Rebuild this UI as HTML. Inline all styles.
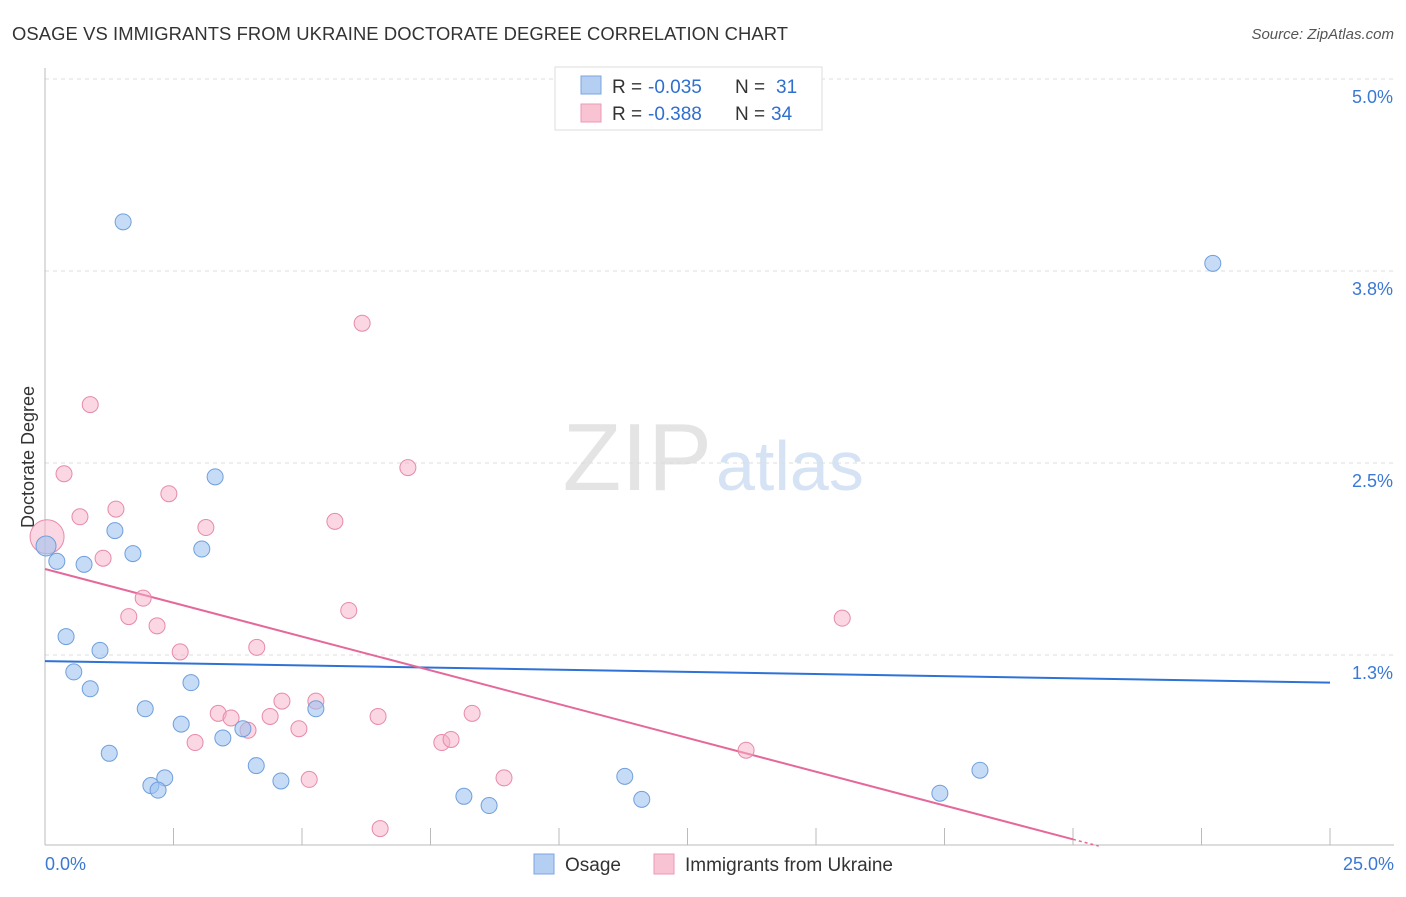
<!DOCTYPE html>
<html><head><meta charset="utf-8"><style>
body{margin:0;background:#fff;font-family:"Liberation Sans",sans-serif;}
svg text{font-family:"Liberation Sans",sans-serif;}
</style></head><body>
<svg id="chart" width="1406" height="892" xmlns="http://www.w3.org/2000/svg">
<text x="12" y="40" font-size="18.4" fill="#333" textLength="776">OSAGE VS IMMIGRANTS FROM UKRAINE DOCTORATE DEGREE CORRELATION CHART</text>
<text x="1394" y="39" font-size="15" fill="#555" text-anchor="end" font-style="italic">Source: ZipAtlas.com</text>
<text x="712" y="490" font-size="96" fill="#e4e4e4" text-anchor="end" font-family="Liberation Serif">ZIP</text>
<text x="716" y="490" font-size="70" fill="#d5e3f5">atlas</text>
<text transform="translate(34,457) rotate(-90)" font-size="18" fill="#333" text-anchor="middle">Doctorate Degree</text>
<g id="grid"></g><g id="axes"></g><g id="trend"></g><g id="pts"></g>
<g>
<rect x="555" y="67" width="267" height="63" fill="#fff" stroke="#ddd"/>
<rect x="581" y="76" width="20" height="18" fill="#b5cff3" stroke="#7aa6e0"/>
<text x="612" y="93" font-size="19" fill="#333">R =</text>
<text x="648" y="93" font-size="19" fill="#2f6fd0">-0.035</text>
<text x="735" y="93" font-size="19" fill="#333">N =</text>
<text x="776" y="93" font-size="19" fill="#2f6fd0">31</text>
<rect x="581" y="104" width="20" height="18" fill="#f8c4d4" stroke="#ec9ab4"/>
<text x="612" y="120" font-size="19" fill="#333">R =</text>
<text x="648" y="120" font-size="19" fill="#2f6fd0">-0.388</text>
<text x="735" y="120" font-size="19" fill="#333">N =</text>
<text x="771" y="120" font-size="19" fill="#2f6fd0">34</text>
</g>
<g>
<rect x="534" y="854" width="20" height="20" fill="#b5cff3" stroke="#7aa6e0"/>
<text x="565" y="871" font-size="19" fill="#333">Osage</text>
<rect x="654" y="854" width="20" height="20" fill="#f8c4d4" stroke="#ec9ab4"/>
<text x="685" y="871" font-size="19" fill="#333">Immigrants from Ukraine</text>
</g>
</svg>
<script>
const osageX=[1.52,22.72,3.31,1.36,1.71,3.05,0.02,0.23,0.76,0.41,1.07,0.56,0.88,2.84,1.95,2.65,5.27,3.85,3.46,1.25,4.11,2.33,2.06,2.20,4.59,11.28,18.19,8.15,8.64,11.61,17.41];
const osageY=[4.07,3.80,2.41,2.06,1.91,1.94,1.96,1.86,1.84,1.37,1.28,1.14,1.03,1.07,0.90,0.80,0.90,0.77,0.71,0.61,0.53,0.45,0.40,0.37,0.43,0.46,0.50,0.33,0.27,0.31,0.35];
const ukrX=[6.17,0.88,0.37,7.06,2.41,1.38,0.68,3.13,5.64,0.04,1.13,1.91,1.63,2.18,5.91,15.51,2.63,4.12,4.61,5.27,3.37,3.62,4.38,6.48,8.31,3.95,4.94,2.92,7.72,7.90,13.64,5.14,8.93,6.52];
const ukrY=[3.41,2.88,2.43,2.47,2.30,2.20,2.15,2.08,2.12,2.02,1.88,1.62,1.50,1.44,1.54,1.49,1.27,1.30,0.95,0.95,0.87,0.84,0.85,0.85,0.87,0.76,0.77,0.68,0.68,0.70,0.63,0.44,0.45,0.12];
const yTicks=[5.0,3.75,2.5,1.25];
const yTickLabels=["5.0%","3.8%","2.5%","1.3%"];
const xTickVals=[0,2.5,5,7.5,10,12.5,15,17.5,20,22.5,25];
const osageTrend=[1.21,1.07];
const ukrTrend=[1.81,-0.088];
const X=v=>45+v*51.4, Y=v=>847-v*153.6;
const NS="http://www.w3.org/2000/svg";
function mk(parent,tag,attrs){const e=document.createElementNS(NS,tag);for(const k in attrs)e.setAttribute(k,attrs[k]);document.getElementById(parent).appendChild(e);return e;}
yTicks.forEach((t,i)=>{
 const l=mk('grid','line',{x1:45,x2:1394,y1:Y(t),y2:Y(t),stroke:'#ddd','stroke-dasharray':'4,4'});
 
 
 const tx=mk('grid','text',{x:1393,y:Y(t)+24,'font-size':18,fill:'#3a78d4','text-anchor':'end'});tx.textContent=yTickLabels[i];
 
 
});
const ax=mk('axes','line',{x1:45,x2:1394,y1:845,y2:845,stroke:'#bbb'});


const ay=mk('axes','line',{x1:45,x2:45,y1:68,y2:845,stroke:'#bbb'});


xTickVals.forEach(v=>{const t=mk('axes','line',{x1:X(v),x2:X(v),y1:828,y2:845,stroke:'#bbb'});
 
 });
const xl0=mk('axes','text',{x:45,y:870,'font-size':18,fill:'#3a78d4'});xl0.textContent='0.0%';


const xl1=mk('axes','text',{x:1394,y:870,'font-size':18,fill:'#3a78d4','text-anchor':'end'});xl1.textContent='25.0%';


const tb=mk('trend','line',{x1:X(0),y1:Y(osageTrend[0]),x2:X(25),y2:Y(osageTrend[1]),stroke:'#2f72d6','stroke-width':2});


const tp=mk('trend','line',{x1:X(0),y1:Y(ukrTrend[0]),x2:X(20),y2:Y(ukrTrend[0]+ukrTrend[1]*20),stroke:'#e5689a','stroke-width':2});


const td=mk('trend','line',{x1:X(20),y1:Y(ukrTrend[0]+ukrTrend[1]*20),x2:X(20.5),y2:Y(ukrTrend[0]+ukrTrend[1]*20.5),stroke:'#e5689a','stroke-width':1.5,'stroke-dasharray':'3,3'});


ukrX.forEach((x,i)=>{const c=mk('pts','circle',{cx:X(x),cy:Y(ukrY[i]),r:i===9?17:8,fill:'rgba(245,175,198,0.5)',stroke:'#e88aa8','stroke-width':1});
 
 });
osageX.forEach((x,i)=>{const c=mk('pts','circle',{cx:X(x),cy:Y(osageY[i]),r:i===6?10:8,fill:'rgba(160,195,240,0.6)',stroke:'#6f9fdc','stroke-width':1});
 
 });
</script>
</body></html>
